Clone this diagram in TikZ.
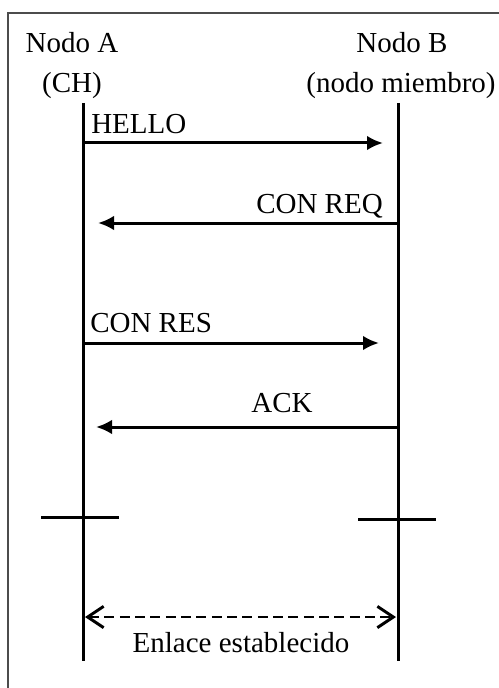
\documentclass[tikz,border=0pt]{standalone}
\usepackage{fontspec}
\setmainfont{Liberation Serif}
\usetikzlibrary{arrows.meta}

\tikzset{
  lbl/.style={inner sep=0pt, font=\fontsize{21.75}{26}\selectfont},
  lifeline/.style={line width=2.25pt},
  msg/.style={line width=2.25pt, -{Latex[length=12pt,width=11pt]}},
  link/.style={line width=2pt, dash pattern=on 7.5pt off 4pt,
    {Straight Barb[length=12pt,width=16pt,line width=2.2pt]}-{Straight Barb[length=12pt,width=16pt,line width=2.2pt]}}
}

\begin{document}
\begin{tikzpicture}[x=0.75pt,y=-0.75pt]
  \useasboundingbox (0,0) rectangle (499,688);
  % frame
  \draw[black!70, line width=1.2pt] (8,688) -- (8,13) -- (499,13);

  % headers
  \node[lbl, anchor=base] (nodoA) at (72,53) {Nodo A};
  \node[lbl, anchor=base] (chA) at (72,93) {(CH)};
  \node[lbl, anchor=base] (nodoB) at (402,53) {Nodo B};
  \node[lbl, anchor=base] (miembroB) at (401,93) {(nodo miembro)};

  % lifelines
  \coordinate (aTop) at (83,103);
  \coordinate (aBot) at (83,661);
  \coordinate (bTop) at (398,103);
  \coordinate (bBot) at (398,661);
  \draw[lifeline] (aTop) -- (aBot);
  \draw[lifeline] (bTop) -- (bBot);

  % messages
  \coordinate (helloA) at (83,143);
  \coordinate (helloB) at (383,143);
  \draw[msg] (helloA) -- (helloB);
  \node[lbl, anchor=base west] (hello) at (91,133) {HELLO};

  \coordinate (reqB) at (398,223);
  \coordinate (reqA) at (98,223);
  \draw[msg] (reqB) -- (reqA);
  \node[lbl, anchor=base east] (req) at (383,213) {CON REQ};

  \coordinate (resA) at (83,343);
  \coordinate (resB) at (379,343);
  \draw[msg] (resA) -- (resB);
  \node[lbl, anchor=base west] (res) at (90,332) {CON RES};

  \coordinate (ackB) at (398,427);
  \coordinate (ackA) at (96,427);
  \draw[msg] (ackB) -- (ackA);
  \node[lbl, anchor=base] (ack) at (282,412) {ACK};

  % crosses
  \coordinate (crossAl) at (41,517);
  \coordinate (crossAr) at (119,517);
  \coordinate (crossBl) at (358,519);
  \coordinate (crossBr) at (436,519);
  \draw[lifeline] (crossAl) -- (crossAr);
  \draw[lifeline] (crossBl) -- (crossBr);

  % established link
  \coordinate (linkA) at (85,617);
  \coordinate (linkB) at (396,617);
  \draw[link] (linkA) -- (linkB);
  \node[lbl, anchor=base] (enlace) at (241,652) {Enlace establecido};
\end{tikzpicture}
\end{document}
